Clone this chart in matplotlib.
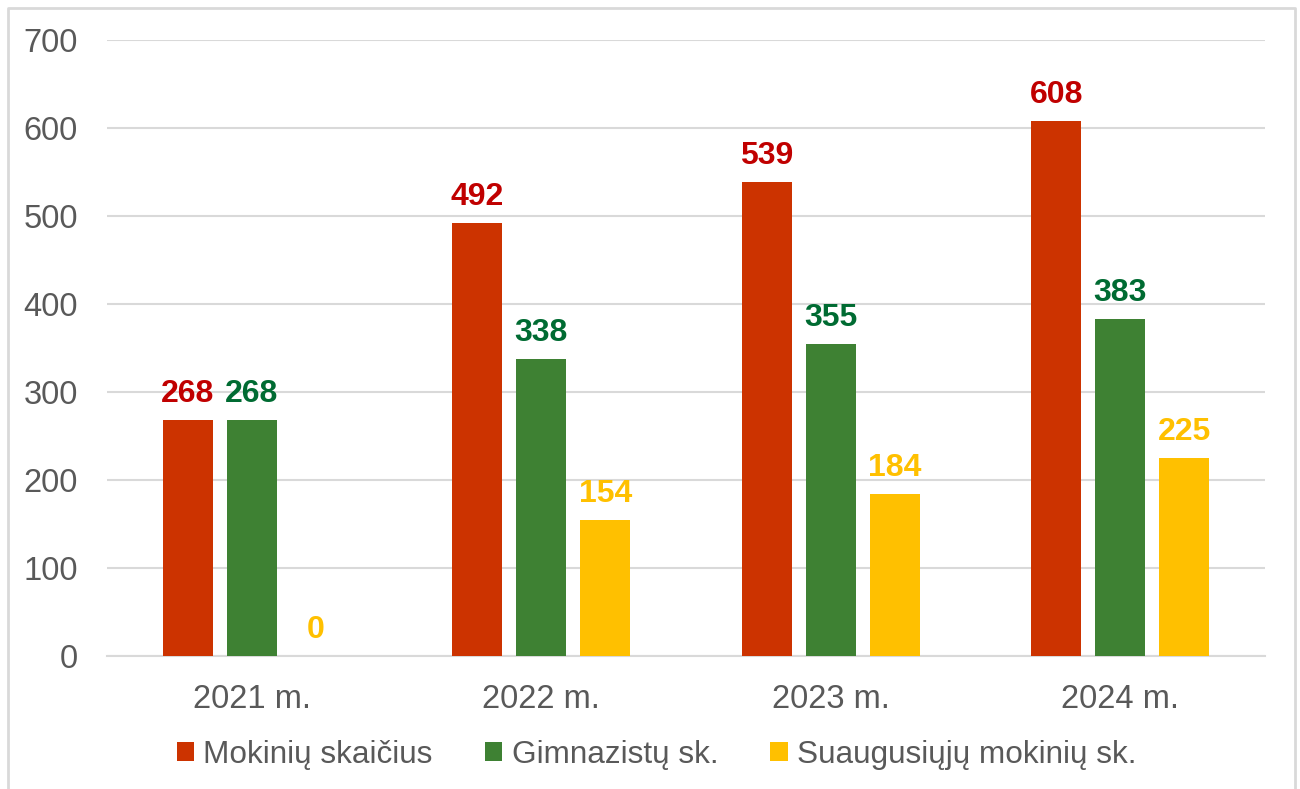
import matplotlib
matplotlib.use("Agg")
import matplotlib.pyplot as plt
from matplotlib.patches import Patch
from matplotlib.lines import Line2D
import numpy as np

years = ["2021 m.", "2022 m.", "2023 m.", "2024 m."]
mokiniu = [268, 492, 539, 608]
gimnazistu = [268, 338, 355, 383]
suaugusiuju = [0, 154, 184, 225]
series_names = ["Mokinių skaičius", "Gimnazistų sk.", "Suaugusiųjų mokinių sk."]

bar_colors = ["#CC3300", "#3E8133", "#FFC000"]
label_colors = ["#C00000", "#006B32", "#FFC000"]

plt.rcParams['font.family'] = ['Liberation Sans', 'DejaVu Sans']

fig = plt.figure(figsize=(13, 7.89), dpi=100)
ax = fig.add_axes([107 / 1300, 1 - 656 / 789, (1265 - 107) / 1300, (656 - 40) / 789])

x = np.arange(len(years))
width = 50 / 289.5
step = 64 / 289.5
for i, (vals, bc, lc) in enumerate(zip([mokiniu, gimnazistu, suaugusiuju], bar_colors, label_colors)):
    pos = x + (i - 1) * step
    ax.bar(pos, vals, width=width, color=bc, zorder=3)
    for px, v in zip(pos, vals):
        ax.annotate(str(v), (px, v), xytext=(0, 13), textcoords="offset points",
                    ha="center", va="baseline", fontsize=23, fontweight="bold", color=lc)

ax.set_xlim(-0.5, len(years) - 0.5)
ax.set_ylim(0, 700)
ax.set_yticks(range(0, 701, 100))
ax.set_xticks(x)
ax.set_xticklabels(years)
ax.tick_params(axis="both", length=0, labelsize=23.5, labelcolor="#595959")
ax.tick_params(axis="y", pad=21)
ax.tick_params(axis="x", pad=20)
ax.grid(axis="y", color="#D9D9D9", linewidth=1.5, zorder=0)
for s in ["top", "right", "left"]:
    ax.spines[s].set_visible(False)
ax.spines["bottom"].set_color("#D9D9D9")
ax.spines["bottom"].set_linewidth(1.5)

handles = [Patch(facecolor=c) for c in bar_colors]
fig.legend(handles, series_names, loc="center", bbox_to_anchor=(0.505, 1 - 755 / 789),
           ncol=3, frameon=False, fontsize=22.7, labelcolor="#595959",
           handlelength=0.55, handleheight=0.55, handletextpad=0.3, columnspacing=1.65)

# outer chart border (bottom edge is cut off)
bx0, bx1, by = 8 / 1300, 1295 / 1300, 1 - 8 / 789
fig.add_artist(Line2D([bx0, bx0, bx1, bx1], [0, by, by, 0], color="#D9D9D9", linewidth=2,
                      transform=fig.transFigure))

fig.savefig("out.png", dpi=100)
